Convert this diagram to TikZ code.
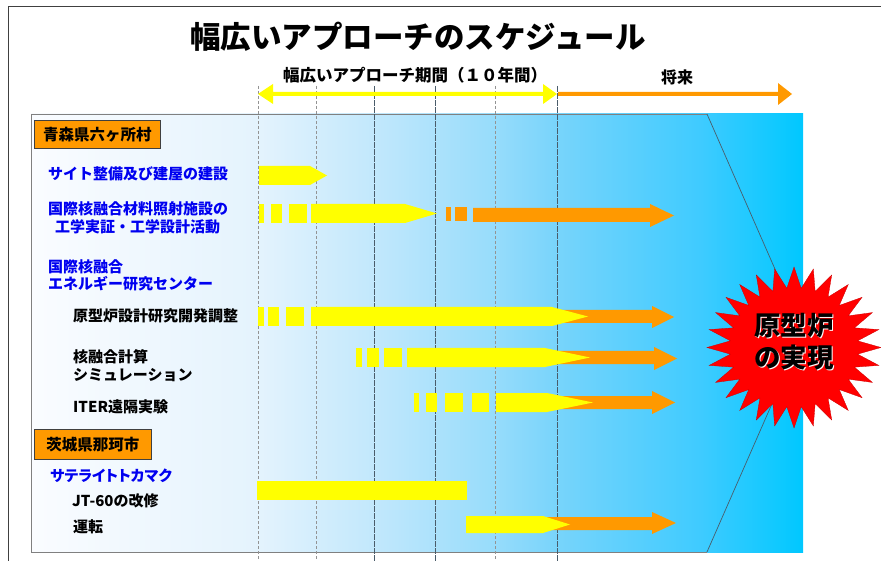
\documentclass[tikz,border=0pt]{standalone}
\usepackage{fontspec}
\setmainfont{Noto Sans CJK JP}
\definecolor{yel}{HTML}{FFFF00}
\definecolor{org}{HTML}{FF9900}
\definecolor{lblue}{HTML}{0000F0}
\definecolor{gridd}{HTML}{4A5C6A}
\definecolor{c0}{HTML}{FAFCFF}
\definecolor{c1}{HTML}{E4F3FD}
\definecolor{c2}{HTML}{C2E8FC}
\definecolor{c3}{HTML}{97DCFB}
\definecolor{c4}{HTML}{78D4FB}
\definecolor{c5}{HTML}{3FCBFF}
\definecolor{c6}{HTML}{00C8FF}
\pgfdeclarehorizontalshading{panelshade}{100bp}{color(0bp)=(c0); color(25bp)=(c0); color(39.7bp)=(c1); color(47.2bp)=(c2); color(55bp)=(c3); color(59bp)=(c4); color(68.3bp)=(c5); color(75bp)=(c6); color(100bp)=(c6)}
\tikzset{
  lab/.style={anchor=west, inner sep=0pt, font=\fontsize{15}{18}\selectfont\bfseries},
  bluelab/.style={lab, text=lblue},
  placebox/.style={draw=black!75, fill=org, line width=0.8pt, minimum height=28pt, inner xsep=0pt, anchor=north west, font=\fontsize{15.5}{18}\selectfont\bfseries},
  lightgrid/.style={gray!85, line width=0.6pt, dash pattern=on 3pt off 2pt},
  darkgrid/.style={gridd, line width=0.8pt, dash pattern=on 6pt off 1pt},
}
% yellow pentagon: #1 x start, #2 body end, #3 tip, #4 top, #5 bottom
\newcommand{\ybar}[5]{\fill[yel] (#1,#4) -- (#2,#4) -- (#3,{(#4+#5)/2}) -- (#2,#5) -- (#1,#5) -- cycle;}
% orange arrow: #1 start, #2 head base, #3 tip, #4 shaft top, #5 shaft bottom, #6 head top, #7 head bottom
\newcommand{\oarrow}[7]{\fill[org] (#1,#4) -- (#2,#4) -- (#2,#6) -- (#3,{(#6+#7)/2}) -- (#2,#7) -- (#2,#5) -- (#1,#5) -- cycle;}
\newcommand{\yrect}[4]{\fill[yel] (#1,#3) rectangle (#2,#4);}
\newcommand{\orect}[4]{\fill[org] (#1,#3) rectangle (#2,#4);}
\begin{document}
\begin{tikzpicture}[x=1pt,y=-1pt]
\useasboundingbox (0,0) rectangle (881,561);
% outer frame
\draw[black!75, line width=0.9pt] (8,600) -- (8,6) -- (900,6);
% panel
\shade[shading=panelshade] (31,114) rectangle (803,552);
\draw[gray, line width=0.8pt] (707,114) -- (31,114) -- (31,552) -- (707,552);
\draw[gridd, line width=0.7pt] (707,114) -- (803,333) -- (707,552);
% grid lines
\foreach \x in {258,316,495} \draw[lightgrid] (\x,86) -- (\x,561);
\foreach \x in {374,435,557} \draw[darkgrid] (\x,86) -- (\x,561);
% top arrows
\fill[yel] (258,94) -- (273,84) -- (273,92) -- (543,92) -- (543,84) -- (557,94) -- (543,104) -- (543,96) -- (273,96) -- (273,104) -- cycle;
\oarrow{558}{778}{792}{92}{96}{83}{105}
\node[font=\fontsize{16.5}{19}\selectfont\bfseries, inner sep=0pt] (period) at (415,75) {幅広いアプローチ期間（１０年間）};
\node[font=\fontsize{16}{19}\selectfont\bfseries, inner sep=0pt] (future) at (677,77) {将来};
% title
\node[font=\fontsize{30.5}{36}\selectfont\bfseries, inner sep=0pt] (title) at (418,37) {幅広いアプローチのスケジュール};
% labels
\node[placebox, minimum width=126pt] (aomori) at (34,120) {青森県六ヶ所村};
\node[bluelab] (l1) at (48,174) {サイト整備及び建屋の建設};
\node[bluelab] (l2a) at (48,209) {国際核融合材料照射施設の};
\node[bluelab] (l2b) at (55,227) {工学実証・工学設計活動};
\node[bluelab] (l3a) at (48,267) {国際核融合};
\node[bluelab] (l3b) at (48,284) {エネルギー研究センター};
\node[lab] (l4) at (73,316) {原型炉設計研究開発調整};
\node[lab] (l5a) at (73,357) {核融合計算};
\node[lab] (l5b) at (73,375) {シミュレーション};
\node[lab] (l6) at (73,407) {ITER遠隔実験};
\node[placebox, minimum height=30pt, minimum width=117pt] (naka) at (34,429) {茨城県那珂市};
\node[bluelab, font=\fontsize{15}{18}\selectfont\bfseries\addfontfeatures{RawFeature=+palt}] (l7) at (50,476) {サテライトトカマク};
\node[lab] (l8) at (72,501) {JT-60の改修};
\node[lab] (l9) at (73,527) {運転};
% row 1
\ybar{259}{310}{327}{166}{185}
% row 2
\yrect{259}{264}{204}{223}\yrect{271}{282}{204}{223}\yrect{289}{307}{204}{223}
\ybar{311}{405}{437}{204}{223}
\orect{446}{451}{207}{221}\orect{455}{467}{207}{221}
\oarrow{473}{650}{674}{208}{222}{204}{227}
% row 3
\oarrow{540}{652}{674}{310}{323}{306}{328}
\yrect{258}{264}{307}{326}\yrect{268}{279}{307}{326}\yrect{286}{304}{307}{326}
\ybar{311}{552}{588}{307}{326}
% row 4
\oarrow{540}{654}{677}{351}{364}{347}{370}
\yrect{356}{362}{348}{367}\yrect{367}{379}{348}{367}\yrect{384}{402}{348}{367}
\ybar{407}{545}{590}{348}{367}
% row 5
\oarrow{540}{652}{675}{396}{409}{391}{414}
\yrect{414}{419}{393}{412}\yrect{426}{437}{393}{412}\yrect{445}{463}{393}{412}\yrect{472}{489}{393}{412}
\ybar{496}{547}{593}{393}{412}
% row 6
\yrect{257}{467}{481}{500}
% row 7
\oarrow{540}{652}{676}{517}{530}{512}{534}
\ybar{466}{543}{570}{516}{533}
% starburst
\fill[red, draw=red!80!black, line width=0.3pt] (881,347.5)
  \foreach \i in {0,...,27} { -- ({794+87*cos(\i*360/28)}, {347.5+80.5*sin(\i*360/28)}) -- ({794+64*cos((\i+0.5)*360/28)}, {347.5+59.5*sin((\i+0.5)*360/28)}) } -- cycle;
\coordinate (sc) at (794,341.5);
\foreach \dx/\dy/\c in {1.2/1.2/white, 0/0/black}
  \node[font=\fontsize{26.5}{32}\selectfont\bfseries, text=\c, align=center, inner sep=0pt] at ([shift={(\dx,\dy)}]sc) {原型炉\\の実現};
\end{tikzpicture}
\end{document}
